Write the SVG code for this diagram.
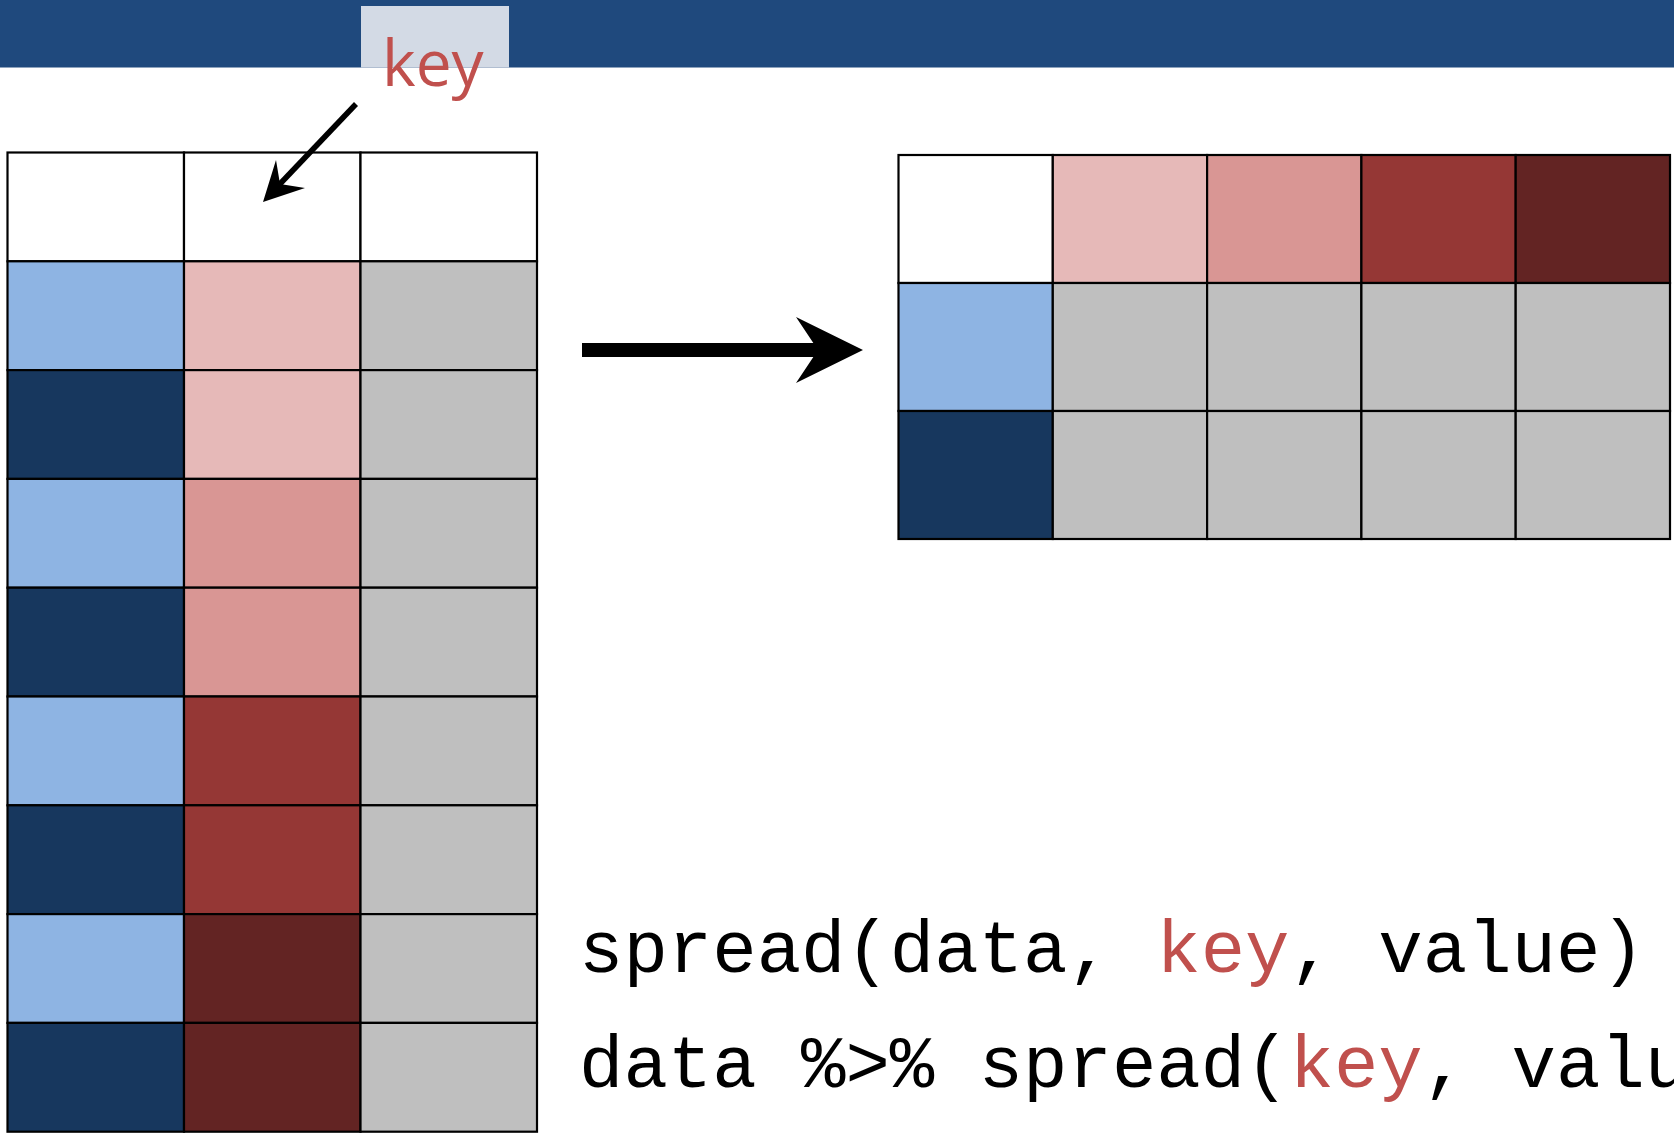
<svg xmlns="http://www.w3.org/2000/svg" width="1674" height="1133" viewBox="0 0 1674 1133">
<style>
.c{stroke:#000;stroke-width:2.2}
.lb{fill:#8EB4E3}.nv{fill:#17375E}.p1{fill:#E6B9B8}.p2{fill:#D99694}.p3{fill:#953735}.p4{fill:#632423}.gr{fill:#BFBFBF}.wh{fill:#FFFFFF}
.code{font-family:"Liberation Mono","Courier New",monospace;font-size:74px;fill:#000}
.red{fill:#C0504D}
</style>
<rect width="1674" height="1133" fill="#FFFFFF"/>
<g id="header">
<rect x="0" y="0" width="1674" height="67.5" fill="#1F497D"/>
<rect x="361" y="6" width="148" height="61.5" fill="#D3DAE5"/>
<text x="382" y="86" font-family="'Open Sans',sans-serif" font-size="64" fill="#C0504D">key</text>
</g>
<g id="left-table">
<rect class="c wh" x="7.5" y="152.5" width="176.5" height="108.8"/>
<rect class="c wh" x="184" y="152.5" width="176.5" height="108.8"/>
<rect class="c wh" x="360.5" y="152.5" width="176.5" height="108.8"/>
<rect class="c lb" x="7.5" y="261.3" width="176.5" height="108.8"/>
<rect class="c p1" x="184" y="261.3" width="176.5" height="108.8"/>
<rect class="c gr" x="360.5" y="261.3" width="176.5" height="108.8"/>
<rect class="c nv" x="7.5" y="370.1" width="176.5" height="108.8"/>
<rect class="c p1" x="184" y="370.1" width="176.5" height="108.8"/>
<rect class="c gr" x="360.5" y="370.1" width="176.5" height="108.8"/>
<rect class="c lb" x="7.5" y="478.9" width="176.5" height="108.8"/>
<rect class="c p2" x="184" y="478.9" width="176.5" height="108.8"/>
<rect class="c gr" x="360.5" y="478.9" width="176.5" height="108.8"/>
<rect class="c nv" x="7.5" y="587.7" width="176.5" height="108.8"/>
<rect class="c p2" x="184" y="587.7" width="176.5" height="108.8"/>
<rect class="c gr" x="360.5" y="587.7" width="176.5" height="108.8"/>
<rect class="c lb" x="7.5" y="696.5" width="176.5" height="108.8"/>
<rect class="c p3" x="184" y="696.5" width="176.5" height="108.8"/>
<rect class="c gr" x="360.5" y="696.5" width="176.5" height="108.8"/>
<rect class="c nv" x="7.5" y="805.3" width="176.5" height="108.8"/>
<rect class="c p3" x="184" y="805.3" width="176.5" height="108.8"/>
<rect class="c gr" x="360.5" y="805.3" width="176.5" height="108.8"/>
<rect class="c lb" x="7.5" y="914.1" width="176.5" height="108.8"/>
<rect class="c p4" x="184" y="914.1" width="176.5" height="108.8"/>
<rect class="c gr" x="360.5" y="914.1" width="176.5" height="108.8"/>
<rect class="c nv" x="7.5" y="1022.9" width="176.5" height="108.8"/>
<rect class="c p4" x="184" y="1022.9" width="176.5" height="108.8"/>
<rect class="c gr" x="360.5" y="1022.9" width="176.5" height="108.8"/>
</g>
<g id="right-table">
<rect class="c wh" x="898.5" y="155" width="154.3" height="128"/>
<rect class="c p1" x="1052.8" y="155" width="154.3" height="128"/>
<rect class="c p2" x="1207.1" y="155" width="154.3" height="128"/>
<rect class="c p3" x="1361.4" y="155" width="154.3" height="128"/>
<rect class="c p4" x="1515.7" y="155" width="154.3" height="128"/>
<rect class="c lb" x="898.5" y="283" width="154.3" height="128"/>
<rect class="c gr" x="1052.8" y="283" width="154.3" height="128"/>
<rect class="c gr" x="1207.1" y="283" width="154.3" height="128"/>
<rect class="c gr" x="1361.4" y="283" width="154.3" height="128"/>
<rect class="c gr" x="1515.7" y="283" width="154.3" height="128"/>
<rect class="c nv" x="898.5" y="411" width="154.3" height="128"/>
<rect class="c gr" x="1052.8" y="411" width="154.3" height="128"/>
<rect class="c gr" x="1207.1" y="411" width="154.3" height="128"/>
<rect class="c gr" x="1361.4" y="411" width="154.3" height="128"/>
<rect class="c gr" x="1515.7" y="411" width="154.3" height="128"/>
</g>
<g id="connectors">
<line x1="356" y1="104" x2="278" y2="186" stroke="#000" stroke-width="5.5"/>
<polygon points="263,202 276,160 280,184 305,188" fill="#000"/>
<rect x="582" y="343" width="238" height="14" fill="#000"/>
<polygon points="863,350 796,317 818,350 796,383" fill="#000"/>
</g>
<g id="code">
<text class="code" x="579" y="971.5">spread(data, <tspan class="red">key</tspan>, value)</text>
<text class="code" x="579" y="1086.5">data %&gt;% spread(<tspan class="red">key</tspan>, value)</text>
</g>
</svg>
